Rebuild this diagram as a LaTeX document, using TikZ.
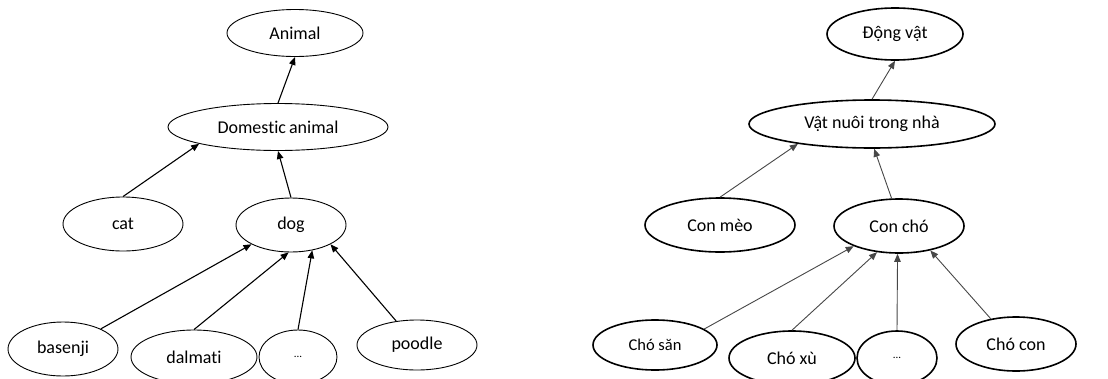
\documentclass[tikz,border=0pt]{standalone}
\usepackage{fontspec}
\setmainfont{Carlito}[Ligatures={NoCommon}]
\usetikzlibrary{shapes.geometric,arrows.meta}
\tikzset{
  el/.style={ellipse, draw=black, line width=0.9pt, inner sep=0pt, font=\fontsize{18}{21}\selectfont},
  elb/.style={el, line width=1.6pt},
  arr/.style={-{Triangle[length=8pt,width=6.5pt]}, line width=1.1pt, black},
  arrg/.style={-{Triangle[length=8pt,width=6.5pt]}, line width=0.9pt, black!72},
  dotsfont/.style={font=\fontsize{11}{12}\selectfont}
}
\begin{document}
\begin{tikzpicture}[x=1pt,y=-1pt]
\useasboundingbox (0,0) rectangle (1108,378);
\fill[white] (0,0) rectangle (1108,378);
\clip (0,0) rectangle (1108,378);
% ---------- left tree ----------
\node[el, minimum width=136pt, minimum height=47pt] (animal) at (295,33) {Animal};
\node[el, minimum width=220pt, minimum height=47pt] (dom) at (278,127) {Domestic\hspace{-1pt} animal};
\node[el, minimum width=120pt, minimum height=54pt] (cat) at (123,224) {cat};
\node[el, minimum width=110pt, minimum height=54pt] (dog) at (291,225) {dog};
\node[el, minimum width=110pt, minimum height=54pt] (basenji) at (63,349) {basenji};
\node[el, minimum width=126pt, minimum height=54pt] (dalmati) at (194,357) {dalmati};
\node[el, dotsfont, minimum width=78pt, minimum height=54pt] (dotsL) at (298,357) {...};
\node[el, minimum width=120pt, minimum height=50pt] (poodle) at (417,345) {poodle};
\draw[arr] (dom.north) -- (animal.south);
\draw[arr] (cat.north) -- (dom.192);
\draw[arr] (dog.north) -- (dom.south);
\draw[arr] (basenji.28) -- (dog.206);
\draw[arr] (dalmati.north) -- (dog.-95);
\draw[arr] (dotsL.north) -- (dog.-50);
\draw[arr] (poodle.131) -- (dog.-26);
% ---------- right tree ----------
\node[elb, minimum width=136pt, minimum height=52pt] (dv) at (895,34) {Động vật};
\node[elb, minimum width=246pt, minimum height=48pt] (vn) at (872,124) {Vật nuôi trong nhà};
\node[elb, minimum width=150pt, minimum height=54pt] (meo) at (720,225) {Con mèo};
\node[elb, minimum width=130pt, minimum height=54pt] (cho) at (899,226) {Con chó};
\node[elb, font=\fontsize{16.5}{19}\selectfont, minimum width=124pt, minimum height=50pt] (san) at (655,345) {Chó săn};
\node[elb, minimum width=126pt, minimum height=54pt] (xu) at (792,358) {Chó xù};
\node[elb, dotsfont, minimum width=80pt, minimum height=54pt] (dotsR) at (897,358) {...};
\node[elb, minimum width=120pt, minimum height=54pt] (con) at (1016,344) {Chó con};
\draw[arrg] (vn.north) -- (dv.south);
\draw[arrg] (meo.north) -- (vn.195);
\draw[arrg] (cho.105) -- (vn.-85);
\draw[arrg] (san.18) -- (cho.204);
\draw[arrg] (xu.north) -- (cho.230);
\draw[arrg] (dotsR.north) -- (cho.-93);
\draw[arrg] (con.135) -- (cho.-38);
\end{tikzpicture}
\end{document}
